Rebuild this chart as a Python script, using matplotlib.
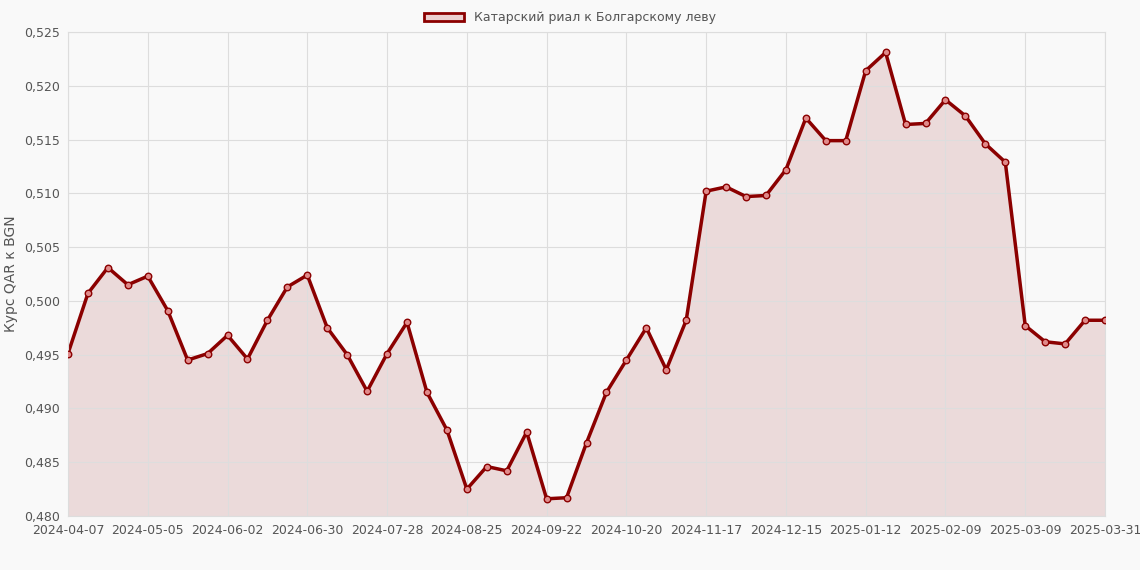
import matplotlib.pyplot as plt
import numpy as np
import datetime as dt

# weekly dates, last point is 2025-03-31
start = dt.date(2024, 4, 7)
dates = [(start + dt.timedelta(weeks=i)).isoformat() for i in range(52)] + ['2025-03-31']
rates = [0.4951, 0.5007, 0.5031, 0.5015, 0.5023, 0.4991, 0.4945, 0.4951, 0.4968, 0.4946,
         0.4982, 0.5013, 0.5024, 0.4975, 0.4950, 0.4916, 0.4951, 0.4980, 0.4915, 0.4880,
         0.4825, 0.4846, 0.4842, 0.4878, 0.4816, 0.4817, 0.4868, 0.4915, 0.4945, 0.4975,
         0.4936, 0.4982, 0.5102, 0.5106, 0.5097, 0.5098, 0.5122, 0.5170, 0.5149, 0.5149,
         0.5214, 0.5231, 0.5164, 0.5165, 0.5187, 0.5172, 0.5146, 0.5129, 0.4977, 0.4962,
         0.4960, 0.4982, 0.4982]

color = '#8b0000'
fig = plt.figure(figsize=(11.4, 5.7), dpi=100, facecolor='#f9f9f9')
ax = fig.add_axes([68/1140, 1-516/570, (1105-68)/1140, (516-32)/570], facecolor='#f9f9f9')

x = np.arange(len(rates))
ax.fill_between(x, rates, 0.48, color=color, alpha=0.12, linewidth=0)
ax.plot(x, rates, color=color, linewidth=2.5, label='Катарский риал к Болгарскому леву')
ax.scatter(x, rates, s=22, facecolor='#e08a8a', edgecolor=color, linewidth=1, zorder=3)

ax.set_xlim(0, len(rates) - 1)
ax.set_ylim(0.48, 0.525)
yt = np.arange(0.480, 0.5251, 0.005)
ax.set_yticks(yt)
ax.set_yticklabels([f'{v:.3f}'.replace('.', ',') for v in yt])
ticks = list(range(0, 52, 4)) + [52]
ax.set_xticks(ticks)
ax.set_xticklabels([dates[i] for i in ticks])
ax.set_xticks(x, minor=True)
ax.tick_params(which='minor', length=0)
ax.grid(True, which='major', color='#dddddd', linewidth=0.8)
ax.tick_params(colors='#555555', labelsize=9, length=0, pad=6)
for s in ax.spines.values():
    s.set_color('#dddddd')
ax.set_ylabel('Курс QAR к BGN', color='#555555', fontsize=10)

leg = fig.legend(handles=[plt.Rectangle((0, 0), 1, 1, facecolor='#ecd0d0', edgecolor=color, linewidth=2)],
                 labels=['Катарский риал к Болгарскому леву'], loc='upper center',
                 bbox_to_anchor=(0.5, 1.0), frameon=False, fontsize=9, handlelength=3.2)
for t in leg.get_texts():
    t.set_color('#555555')

fig.savefig('out.png', dpi=100, facecolor=fig.get_facecolor())
